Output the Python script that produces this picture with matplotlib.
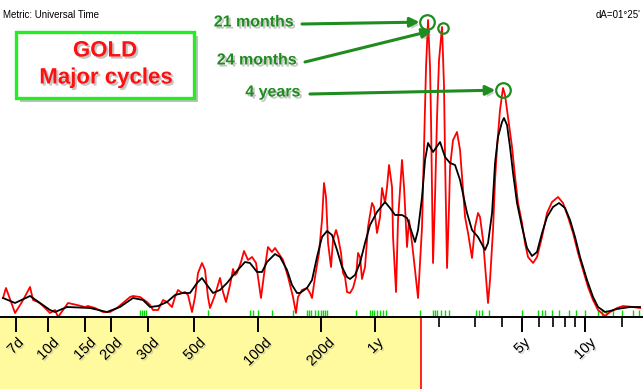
import matplotlib
matplotlib.use("Agg")
import matplotlib.pyplot as plt
import matplotlib.patheffects as pe
from matplotlib.patches import Rectangle
from matplotlib.ticker import NullFormatter

# ---------------- data ----------------
# red spectrum (period in days, amplitude)
red_days = [6.10, 6.30, 6.96, 7.51, 8.21, 8.48, 8.96, 9.36, 10.22, 10.80, 11.16, 12.46, 13.75,
            15.01, 15.52, 16.76, 18.29, 19.76, 21.34, 24.62, 25.44, 27.47, 29.66, 30.67, 31.70,
            33.49, 35.38, 36.97, 38.20, 39.05, 40.36, 41.71, 43.59, 45.05, 46.56, 48.66, 50.29,
            51.97, 54.30, 56.12, 58.00, 59.29, 62.64, 66.18, 68.40, 70.69, 73.87, 76.34, 78.04,
            79.77, 83.36, 86.15, 90.03, 94.07, 98.30, 103.8, 108.5, 112.1, 117.1, 121.1, 126.5,
            132.3, 139.8, 147.6, 152.5, 155.9, 162.9, 172.1, 177.9, 181.9, 188.0, 196.4, 203.0,
            207.5, 212.1, 216.9, 224.1, 229.1, 236.8, 242.1, 250.1, 255.7, 261.4, 267.2, 276.1,
            285.4, 294.9, 301.5, 308.2, 315.0, 325.6, 336.5, 351.6, 359.4, 371.5, 384.0, 392.5,
            405.7, 414.7, 423.9, 438.1, 443.0, 457.8, 468.0, 489.0, 499.9, 516.6, 528.1, 545.8,
            564.1, 583.0, 609.2, 622.8, 636.6, 650.8, 665.2, 672.5, 687.5, 702.8, 718.4, 734.3,
            759.0, 775.8, 784.4, 801.8, 819.6, 828.7, 856.5, 894.9, 925.0, 977.3, 1010, 1055,
            1090, 1127, 1152, 1191, 1230, 1258, 1286, 1329, 1359, 1389, 1435, 1483, 1516, 1567,
            1638, 1693, 1749, 1828, 1889, 1952, 2063, 2155, 2277, 2406, 2541, 2714, 2868, 3030,
            3202, 3383, 3573, 3775, 3988, 4214, 4550, 4808, 5192, 5546, 6191, 6685]
red_amp = [19, 29, 4, 15, 30, 17, 15, 12, 4, 7, 0, 14, 12,
           10, 11, 9, 5, 5, 9, 20, 21, 20, 15, 12, 7,
           7, 17, 15, 12, 10, 20, 27, 24, 25, 22, 5, 20,
           44, 54, 47, 20, 9, 22, 39, 25, 15, 32, 48, 42,
           44, 55, 66, 57, 60, 54, 19, 50, 70, 65, 69, 63,
           57, 40, 20, 4, 20, 27, 29, 24, 19, 40, 64, 97,
           134, 120, 74, 50, 77, 87, 80, 64, 44, 40, 25, 24,
           29, 40, 64, 60, 38, 50, 90, 114, 110, 84, 100, 129,
           114, 130, 152, 130, 80, 25, 97, 157, 130, 70, 97, 74,
           47, 19, 90, 170, 250, 297, 250, 197, 54, 120, 200, 257,
           290, 230, 160, 49, 110, 150, 177, 185, 167, 100, 84, 59,
           90, 104, 100, 77, 40, 14, 37, 87, 137, 170, 207, 229, 222, 200,
           170, 140, 114, 94, 74, 60, 54, 60, 80, 104, 115, 120, 114, 100,
           84, 64, 47, 30, 17, 7, 1, 5, 9, 11, 10, 9]

# black smoothed spectrum
black_days = [6.10, 6.96, 8.21, 10.22, 10.80, 12.32, 15.86, 19.11, 22.05, 25.44, 28.39, 30.67,
              33.49, 36.97, 40.36, 44.07, 47.60, 51.40, 54.30, 57.36, 61.28, 66.18, 71.47,
              78.04, 87.11, 92.03, 99.38, 105.0, 110.9, 121.1, 128.0, 138.2, 146.0, 154.2,
              159.4, 172.1, 181.9, 192.1, 203.0, 214.5, 226.6, 239.4, 252.9, 267.2, 276.1,
              291.7, 308.2, 325.6, 344.0, 371.5, 405.7, 428.6, 452.8, 489.0, 516.6, 545.8,
              564.1, 583.0, 609.2, 629.7, 650.8, 687.5, 742.5, 784.4, 828.7, 875.5, 925.0,
              998.9, 1055, 1127, 1217, 1258, 1315, 1359, 1404, 1467, 1499, 1550, 1602, 1656,
              1730, 1828, 1931, 2040, 2155, 2277, 2406, 2569, 2744, 2932, 3098, 3273, 3457,
              3733, 3988, 4214, 4550, 4808, 5192, 5990, 6685]
black_amp = [19, 14, 21, 7, 5, 10, 9, 5, 10, 19, 17, 10,
             11, 15, 22, 24, 24, 34, 39, 32, 24, 27, 34,
             44, 55, 54, 45, 45, 55, 63, 60, 47, 32, 24,
             24, 29, 37, 60, 80, 86, 82, 67, 50, 40, 38,
             42, 54, 74, 92, 105, 115, 109, 102, 102, 99, 84,
             75, 87, 120, 157, 174, 165, 175, 160, 154, 152, 137,
             104, 87, 80, 67, 74, 104, 154, 180, 195, 199, 192, 170, 144,
             114, 90, 69, 61, 65, 84, 100, 110, 114, 109, 97, 80, 60,
             37, 20, 10, 5, 6, 8, 10, 10]

# green event marks (periods in days)
green_days = [27.5, 28.1, 28.7, 29.4, 58.0, 92.1, 95.2, 100.5, 117.3, 147.7, 172.2, 176.0,
              180.0, 188.0, 194.4, 200.9, 205.3, 209.9, 214.6, 295.1, 344.1, 351.7, 359.7,
              371.7, 384.1, 397.0, 410.4, 596, 687.6, 703, 718.6, 751, 785, 820, 1103, 1140,
              1178, 1272, 1829, 2181, 2279, 2355, 2542, 2745, 3065, 3310, 3654, 4216, 4406,
              4603, 4973, 5488, 6197, 6620]

# axis ticks
major_days = [7, 10, 15, 20, 30, 50, 100, 200, 365.25, 1826.25, 3652.5]
major_labels = ["7d", "10d", "15d", "20d", "30d", "50d", "100d", "200d", "1y", "5y", "10y"]
minor_days = [730.5, 1095.75, 1461, 2191.5, 2556.75, 2922, 3287.25, 5478.75]

yellow_limit_days = 600

# circled peaks
peak_labels = ["21 months", "24 months", "4 years"]
peak_days = [645, 765, 1483]
peak_amps = [295, 289, 227]

# ---------------- figure ----------------
W, H = 643, 389
fig = plt.figure(figsize=(W / 100, H / 100), dpi=100)
ax = fig.add_axes([0, 0, 1, 1])
ax.set_xscale("log")
ax.set_xlim(5.90, 6906)
ax.set_ylim(-72, 317)
ax.set_facecolor("white")

# yellow zone below the axis
ax.fill_between([5.90, yellow_limit_days], -72, 0, color="#fffa9e", zorder=0, lw=0)
ax.vlines(yellow_limit_days, -72, 0, color="red", lw=1.2, zorder=1)

# green marks
ax.vlines(green_days, 0, 7, color="#00dd00", lw=1.0, zorder=2)

# spectra
ax.plot(red_days, red_amp, color="red", lw=1.3, zorder=3, solid_joinstyle="round")
ax.plot(black_days, black_amp, color="black", lw=1.3, zorder=4, solid_joinstyle="round")

# axis styling
for s in ["top", "left", "right"]:
    ax.spines[s].set_visible(False)
ax.spines["bottom"].set_position(("data", 0))
ax.spines["bottom"].set_linewidth(1.4)
ax.spines["bottom"].set_zorder(5)
ax.set_yticks([])
ax.set_xticks(major_days)
lab_shadow = [pe.withSimplePatchShadow(offset=(1, -1), shadow_rgbFace="gray", alpha=0.35)]
ax.set_xticklabels(major_labels, rotation=45, ha="center", va="top",
                   fontsize=10.5, family="Liberation Sans")
for t in ax.get_xticklabels():
    t.set_path_effects(lab_shadow)
ax.set_xticks(minor_days, minor=True)
ax.xaxis.set_minor_formatter(NullFormatter())
ax.tick_params(axis="x", which="major", length=10.8, width=1.4, direction="out", pad=2.5)
ax.tick_params(axis="x", which="minor", length=7.2, width=1.2, direction="out")

def fx(px):
    return px / W

def fy(py):
    return 1 - py / H

# header texts
ax.text(fx(3), fy(15), "Metric: Universal Time", transform=ax.transAxes, fontsize=7,
        va="center", ha="left", family="Liberation Sans")
ax.text(fx(640), fy(15), "dA=01°25'", transform=ax.transAxes, fontsize=7,
        va="center", ha="right", family="Liberation Sans")

# title box
rect = Rectangle((fx(16), fy(98)), 178 / W, 66 / H, transform=ax.transAxes,
                 facecolor="white", edgecolor="#22ee22", lw=2.4, zorder=10)
rect.set_path_effects([pe.SimplePatchShadow(offset=(3, -3), shadow_rgbFace="gray", alpha=0.5),
                       pe.Normal()])
ax.add_patch(rect)
shadow = [pe.withSimplePatchShadow(offset=(1.5, -1.5), shadow_rgbFace="gray", alpha=0.45)]
ax.text(fx(105), fy(51), "GOLD", transform=ax.transAxes, fontsize=16, fontweight="bold",
        color="#ff1010", ha="center", va="center", family="Liberation Sans", zorder=11,
        path_effects=shadow)
ax.text(fx(106), fy(78), "Major cycles", transform=ax.transAxes, fontsize=16, fontweight="bold",
        color="#ff1010", ha="center", va="center", family="Liberation Sans", zorder=11,
        path_effects=shadow)

# annotations
green = "#1e8c1e"
text_pos = [(254, 22), (257, 60), (273, 92)]
arrow_start = [(302, 24), (305, 62), (310, 94)]
shrinks = [5.5, 8, 5.5]
sizes = [10.5, 7.5, 10.5]
for lab, d, a, tp, st, sh, sz in zip(peak_labels, peak_days, peak_amps, text_pos,
                                     arrow_start, shrinks, sizes):
    ax.text(fx(tp[0]), fy(tp[1]), lab, transform=ax.transAxes, fontsize=11.5,
            fontweight="bold", color=green, ha="center", va="center",
            family="Liberation Sans", zorder=11, path_effects=shadow)
    ann = ax.annotate("", xy=(d, a), xycoords="data",
                      xytext=(fx(st[0]), fy(st[1])), textcoords="axes fraction",
                      arrowprops=dict(arrowstyle="-|>", color=green, lw=2.2,
                                      mutation_scale=14, shrinkA=0, shrinkB=sh),
                      zorder=11)
    ann.arrow_patch.set_path_effects([pe.SimplePatchShadow(offset=(2, -2),
                                                           shadow_rgbFace="gray", alpha=0.4),
                                      pe.Normal()])
    ax.plot([d], [a], marker="o", ms=sz, mfc="none", mec=green, mew=1.6, zorder=12)

fig.savefig("out.png", dpi=100)
